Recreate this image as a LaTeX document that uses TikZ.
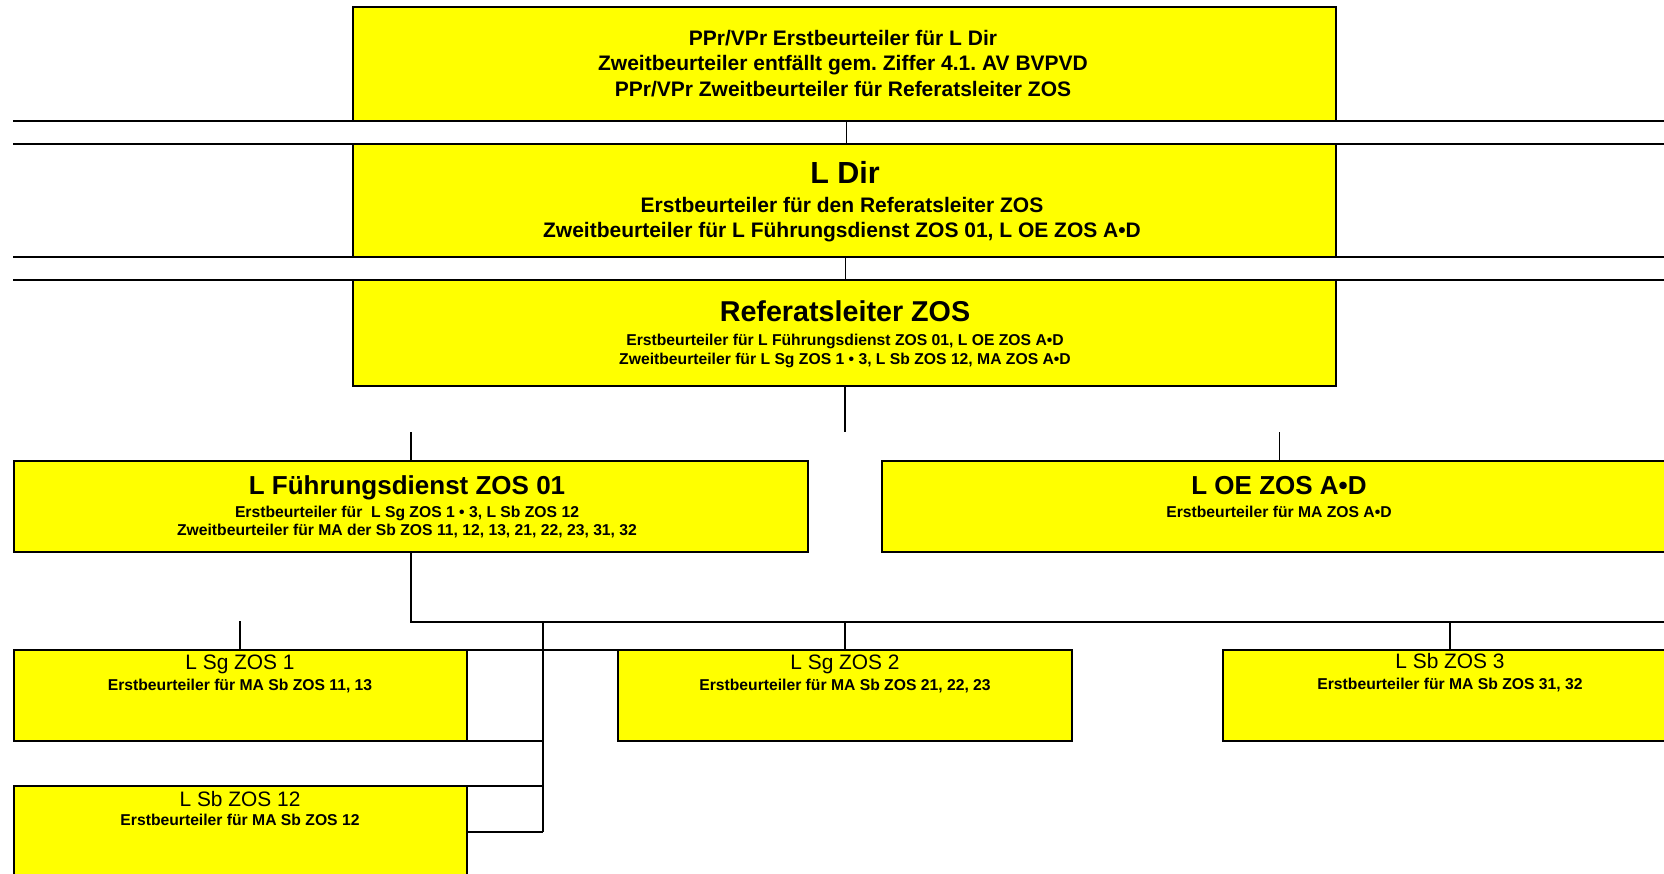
\documentclass[tikz,border=0pt]{standalone}
\usepackage{fontspec}
\setmainfont{Liberation Sans}
\definecolor{boxyellow}{RGB}{255,255,0}
\frenchspacing
\begin{document}
\begin{tikzpicture}[x=1pt,y=-1pt,
  box/.style={draw=black,line width=2pt,fill=boxyellow,rectangle,inner sep=0pt,outer sep=0pt,anchor=north west},
  heavy/.style={line width=2pt},
  thinline/.style={line width=1pt},
  midline/.style={line width=1.7pt},
  lbl/.style={anchor=base,inner sep=0pt,outer sep=0pt},
  tA/.style={lbl,font=\fontsize{21}{25}\selectfont\bfseries},
  tLD/.style={lbl,font=\fontsize{30.5}{36}\selectfont\bfseries},
  tRef/.style={lbl,font=\fontsize{28.7}{34}\selectfont\bfseries},
  tM/.style={lbl,font=\fontsize{26}{31}\selectfont\bfseries},
  tS/.style={lbl,font=\fontsize{15.7}{19}\selectfont\bfseries},
  tR/.style={lbl,font=\fontsize{20.9}{25}\selectfont}]
\useasboundingbox (0,0) rectangle (1664,873);
\clip (0,0) rectangle (1664,873);

% long horizontal rules
\coordinate (h1a) at (13,120.7);  \coordinate (h1b) at (1670,120.7);
\coordinate (h2a) at (13,144);    \coordinate (h2b) at (1670,144);
\coordinate (h3a) at (13,256.7);  \coordinate (h3b) at (1670,256.7);
\coordinate (h4a) at (13,280);    \coordinate (h4b) at (1670,280);
\draw[heavy] (h1a) -- (h1b);
\draw[heavy] (h2a) -- (h2b);
\draw[heavy] (h3a) -- (h3b);
\draw[heavy] (h4a) -- (h4b);

% boxes
\node[box,minimum width=982.2pt,minimum height=113.4pt] (ppr) at (353.4,7.3) {};
\node[box,minimum width=982.2pt,minimum height=112.7pt] (ldir) at (353.4,144) {};
\node[box,minimum width=982.2pt,minimum height=105.7pt] (ref) at (353.4,280) {};
\node[box,minimum width=793.9pt,minimum height=90.7pt] (lfd) at (13.7,461) {};
\node[box,minimum width=794pt,minimum height=90.7pt] (loe) at (882.4,461) {};
\node[box,minimum width=453pt,minimum height=90.7pt] (lsg1) at (13.7,650) {};
\node[box,minimum width=453pt,minimum height=90.7pt] (lsb12) at (13.7,785.7) {};
\node[box,minimum width=454pt,minimum height=90.7pt] (lsg2) at (618,650) {};
\node[box,minimum width=454pt,minimum height=90.7pt] (lsb3) at (1223,650) {};

% texts
\node[tA] (pprA) at (843,45.5) {PPr/VPr Erstbeurteiler für L Dir};
\node[tA] (pprB) at (843,70.5) {Zweitbeurteiler entfällt gem. Ziffer 4.1. AV BVPVD};
\node[tA] (pprC) at (843,96) {PPr/VPr Zweitbeurteiler für Referatsleiter ZOS};
\node[tLD] (ldirT) at (845,183.8) {L Dir};
\node[tA] (ldirA) at (842,212) {Erstbeurteiler für den Referatsleiter ZOS};
\node[tA] (ldirB) at (842,237.7) {Zweitbeurteiler für L Führungsdienst ZOS 01, L OE ZOS A•D};
\node[tRef] (refT) at (845,321.2) {Referatsleiter ZOS};
\node[tS] (refA) at (845,345.4) {Erstbeurteiler für L Führungsdienst ZOS 01, L OE ZOS A•D};
\node[tS] (refB) at (845,364.4) {Zweitbeurteiler für L Sg ZOS 1 • 3, L Sb ZOS 12, MA ZOS A•D};
\node[tM] (lfdT) at (407,494.8) {L Führungsdienst ZOS 01};
\node[tS] (lfdA) at (407,517.1) {Erstbeurteiler für\ \ L Sg ZOS 1 • 3, L Sb ZOS 12};
\node[tS] (lfdB) at (407,535.4) {Zweitbeurteiler für MA der Sb ZOS 11, 12, 13, 21, 22, 23, 31, 32};
\node[tM] (loeT) at (1279,494.8) {L OE ZOS A•D};
\node[tS] (loeA) at (1279,517.1) {Erstbeurteiler für MA ZOS A•D};
\node[tR] (lsg1T) at (240,669.4) {L Sg ZOS 1};
\node[tS] (lsg1A) at (240,690.4) {Erstbeurteiler für MA Sb ZOS 11, 13};
\node[tR] (lsb12T) at (240,806.4) {L Sb ZOS 12};
\node[tS] (lsb12A) at (240,825.4) {Erstbeurteiler für MA Sb ZOS 12};
\node[tR] (lsg2T) at (845,669.4) {L Sg ZOS 2};
\node[tS] (lsg2A) at (845,690.4) {Erstbeurteiler für MA Sb ZOS 21, 22, 23};
\node[tR] (lsb3T) at (1450,668.8) {L Sb ZOS 3};
\node[tS] (lsb3A) at (1450,689.8) {Erstbeurteiler für MA Sb ZOS 31, 32};

% connectors
\draw[thinline] ([xshift=2pt]ppr.south) -- ([xshift=2pt]ldir.north);
\draw[thinline] ([xshift=1pt]ldir.south) -- ([xshift=1pt]ref.north);
\coordinate (refdrop) at (845,431.7);
\draw[midline] (ref.south -| refdrop) -- (refdrop);
\coordinate (lfdup) at (410.65,432.3);
\draw[midline] (lfdup) -- (lfd.north);
\coordinate (loeup) at (1279.4,432.3);
\draw[midline] (loeup) -- (loe.north);
\coordinate (busL) at (410.65,621.7);
\coordinate (busR) at (1670,621.7);
\draw[heavy] (lfd.south) -- (busL) -- (busR);
\coordinate (stub) at (240.2,621);
\draw[midline] (stub) -- (lsg1.north);
\coordinate (v1) at (543,621.7);
\coordinate (v2) at (543,831.7);
\draw[heavy] (v1) -- (v2);
\draw[midline] (lsg2.north |- busL) -- (lsg2.north);
\draw[midline] (lsb3.north |- busL) -- (lsb3.north);
\draw[heavy] (lsg1.north east) -- (lsg2.north west);
\draw[heavy] (lsg1.south east) -- (lsg1.south east -| v1);
\draw[heavy] (lsb12.north east) -- (lsb12.north east -| v1);
\coordinate (c12) at (466.7,831.7);
\draw[heavy] (c12) -- (v2);
\end{tikzpicture}
\end{document}
